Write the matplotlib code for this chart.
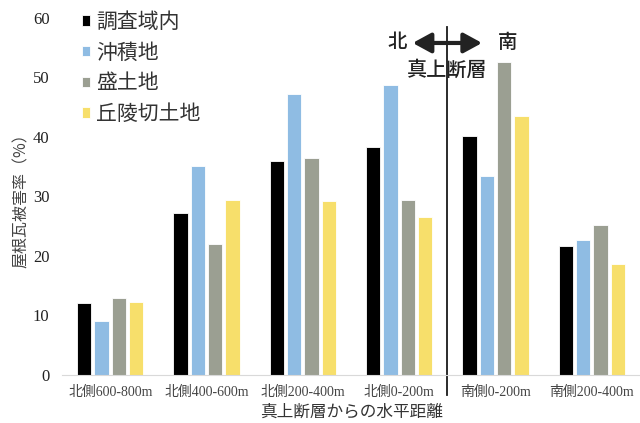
import matplotlib
matplotlib.use("Agg")
import matplotlib.pyplot as plt
import numpy as np

categories = ["北側600-800m", "北側400-600m", "北側200-400m", "北側0-200m", "南側0-200m", "南側200-400m"]
series_names = ["調査域内", "沖積地", "盛土地", "丘陵切土地"]
v_all = [12.1, 27.2, 36.0, 38.3, 40.2, 21.7]
v_alluvial = [9.1, 35.1, 47.2, 48.7, 33.4, 22.7]
v_fill = [12.9, 22.0, 36.5, 29.4, 52.6, 25.2]
v_cut = [12.2, 29.4, 29.2, 26.6, 43.5, 18.7]
yticks = [0, 10, 20, 30, 40, 50, 60]

colors = ["#000000", "#8FBCE3", "#9B9F92", "#F7DF6B"]
jp = ["Noto Sans CJK JP", "DejaVu Sans"]
serif = ["Liberation Serif", "Noto Sans CJK JP"]

fig = plt.figure(figsize=(6.4, 4.23), dpi=100)
ax = fig.add_axes([0.097, 0.1135, 0.903, 0.844])

x = np.arange(len(categories))
pitch = 0.18
width = 0.148
series = [v_all, v_alluvial, v_fill, v_cut]
for i, (vals, c, name) in enumerate(zip(series, colors, series_names)):
    ax.bar(x + (i - 1.5) * pitch, vals, width=width, color=c, label=name,
           edgecolor="white", linewidth=0.6)

ax.set_xlim(-0.5, len(categories) - 0.5)
ax.set_ylim(0, 60)
ax.set_yticks(yticks)
ax.set_yticklabels([str(t) for t in yticks], fontfamily="Liberation Serif", fontsize=12, color="#222222")
ax.set_xticks(x)
ax.set_xticklabels(categories, fontfamily=serif, fontsize=10, color="#444444")
ax.tick_params(axis="x", length=0, pad=8)
ax.tick_params(axis="y", length=0, pad=9)
for s in ["top", "right", "left"]:
    ax.spines[s].set_visible(False)
ax.spines["bottom"].set_color("#D9D9D9")

ax.set_ylabel("屋根瓦被害率（%）", fontfamily=jp, fontsize=11.5, color="#444444", labelpad=2)
ax.set_xlabel("真上断層からの水平距離", fontfamily=jp, fontsize=12, color="#333333", labelpad=3)

leg = ax.legend(loc="upper left", bbox_to_anchor=(0.012, 1.055), frameon=False,
                prop={"family": jp, "size": 15}, handlelength=0.4, handleheight=0.4,
                handletextpad=0.3, labelspacing=0.42, borderaxespad=0.2)
for t in leg.get_texts():
    t.set_color("#333333")

# divider line
ax.plot([3.5, 3.5], [-3.3, 58.5], color="#1a1a1a", linewidth=1.3, clip_on=False)
# double arrow
ax.annotate("", xy=(3.14, 55.8), xytext=(3.86, 55.8),
            arrowprops=dict(arrowstyle="<|-|>,head_length=1.1,head_width=0.6",
                            color="#222222", lw=3.0, shrinkA=0, shrinkB=0))
ax.text(2.98, 55.8, "北", fontfamily=jp, fontsize=14, fontweight="medium",
        ha="center", va="center", color="#222222")
ax.text(4.13, 55.9, "南", fontfamily=jp, fontsize=14, fontweight="medium",
        ha="center", va="center", color="#222222")
ax.text(3.5, 51.2, "真上断層", fontfamily=jp, fontsize=14.5, fontweight="medium",
        ha="center", va="center", color="#222222")

fig.savefig("out.png", dpi=100)
